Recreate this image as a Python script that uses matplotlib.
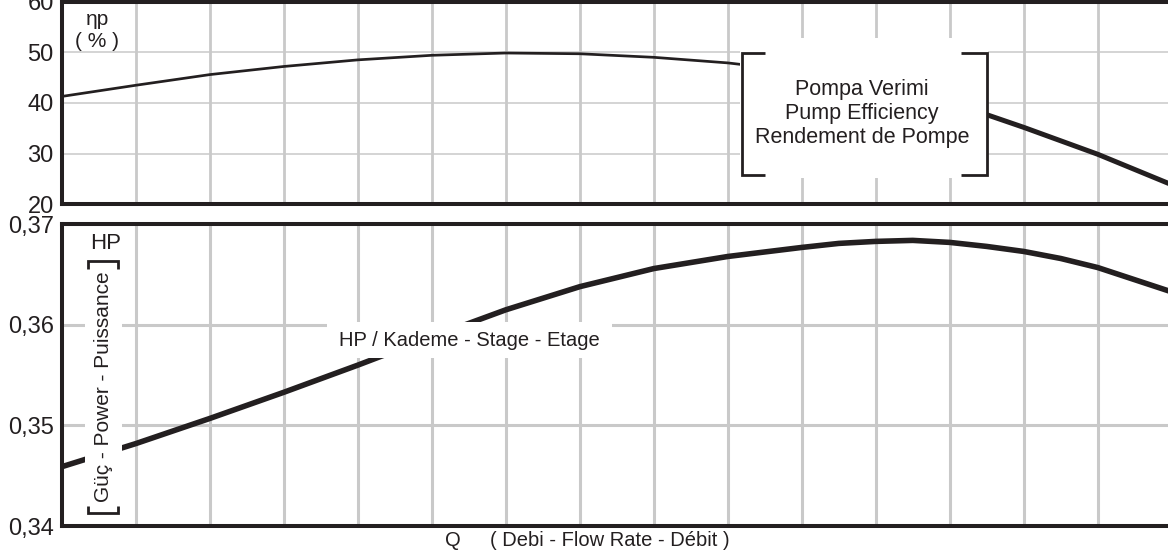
import matplotlib
matplotlib.use("Agg")
import matplotlib.pyplot as plt
from matplotlib.patches import Rectangle
from matplotlib.lines import Line2D

plt.rcParams["font.family"] = ["Liberation Sans", "DejaVu Sans"]

W, H = 1168, 560          # output size [px]
DARK = "#231f20"
GRID = "#c9c9c9"

# --- data (Q in grid divisions) ---
Q_EFF = [0, 1, 2, 3, 4, 5, 6, 7, 8, 9, 10, 11, 12, 12.5, 13, 14, 14.95]
EFF   = [41.3, 43.5, 45.6, 47.2, 48.5, 49.4, 49.85, 49.7, 49.0, 47.9,
         46.2, 43.5, 39.9, 37.7, 35.2, 29.9, 24.2]

Q_HP = [0, 1, 2, 3, 4, 5, 6, 7, 8, 9, 10, 10.5, 11, 11.5, 12, 12.5, 13, 13.5, 14, 14.95]
HP   = [0.3459, 0.3482, 0.3507, 0.3533, 0.3560, 0.3588, 0.3615, 0.3638,
        0.3656, 0.3668, 0.3677, 0.3681, 0.3683, 0.3684, 0.3682, 0.3678,
        0.3673, 0.3666, 0.3657, 0.3634]

EFF_TICKS = [20, 30, 40, 50, 60]
HP_TICKS = [0.34, 0.35, 0.36, 0.37]
HP_TICK_LABELS = ["0,34", "0,35", "0,36", "0,37"]
Q_GRID = list(range(1, 15))
Q_MAX = 14.95


def fx(px):
    return px / W


def fy(py):
    return 1 - py / H


def style(ax, lw_v, lw_h):
    ax.set_xlim(0, Q_MAX)
    ax.set_xticks(Q_GRID)
    ax.set_xticklabels([])
    ax.tick_params(length=0, labelsize=17, labelcolor=DARK, pad=6)
    ax.grid(axis="x", color=GRID, lw=lw_v)
    ax.grid(axis="y", color=GRID, lw=lw_h)
    ax.set_axisbelow(True)
    for s in ["left", "top", "bottom"]:
        ax.spines[s].set_linewidth(2.9)
        ax.spines[s].set_color(DARK)
    ax.spines["right"].set_visible(False)


def white_box(x0, y0, x1, y1):
    fig.add_artist(Rectangle((fx(x0), fy(y1)), fx(x1) - fx(x0), fy(y0) - fy(y1),
                             transform=fig.transFigure, fc="white", ec="none", zorder=1))


def bracket(pts, lw=2.0):
    fig.add_artist(Line2D([fx(p[0]) for p in pts], [fy(p[1]) for p in pts],
                          transform=fig.transFigure, color=DARK, lw=lw, zorder=2,
                          solid_capstyle="butt", solid_joinstyle="miter"))


def label(x, y, s, size, **kw):
    fig.text(fx(x), fy(y), s, fontsize=size, color=DARK, ha="center", va="center",
             zorder=3, **kw)


fig = plt.figure(figsize=(W / 100, H / 100), dpi=100)
ax1 = fig.add_axes([fx(62), fy(204.5), 1 - fx(62), fy(1.5) - fy(204.5)])
ax2 = fig.add_axes([fx(62), fy(526), 1 - fx(62), fy(224.3) - fy(526)])

# efficiency panel
style(ax1, 2.0, 1.1)
ax1.set_ylim(20, 60)
ax1.set_yticks(EFF_TICKS)
ax1.plot(Q_EFF[:13], EFF[:13], color=DARK, lw=1.95)
ax1.plot(Q_EFF[12:], EFF[12:], color=DARK, lw=3.6)

# power panel
style(ax2, 2.2, 2.2)
ax2.set_ylim(0.34, 0.37)
ax2.set_yticks(HP_TICKS)
ax2.set_yticklabels(HP_TICK_LABELS)
ax2.plot(Q_HP, HP, color=DARK, lw=4.0)

# efficiency caption box
white_box(740, 38, 988, 178)
bracket([(765, 52.7), (741.7, 52.7), (741.7, 175), (765, 175)])
bracket([(961, 52.7), (986.7, 52.7), (986.7, 175), (961, 175)])
for yy, s in zip([89, 113, 137], ["Pompa Verimi", "Pump Efficiency", "Rendement de Pompe"]):
    label(862, yy, s, 15.5)

label(97, 19.5, "ηp", 15)
label(97, 41.5, "( % )", 15)

# power labels
white_box(327, 322, 612, 358)
label(469, 340, "HP / Kademe - Stage - Etage", 14.5)

white_box(85, 228, 122, 520)
label(106, 243.5, "HP", 16)
bracket([(88, 269), (88, 261), (118, 261), (118, 269)])
bracket([(88, 506), (88, 513), (118, 513), (118, 506)])
label(103.5, 387, "Güç - Power - Puissance", 15, rotation=90)

# x label
label(452.5, 540, "Q", 14.5)
fig.text(fx(490), fy(540), "( Debi - Flow Rate - Débit )", fontsize=14.5, color=DARK,
         ha="left", va="center")

fig.savefig("out.png", dpi=100)
plt.close(fig)
